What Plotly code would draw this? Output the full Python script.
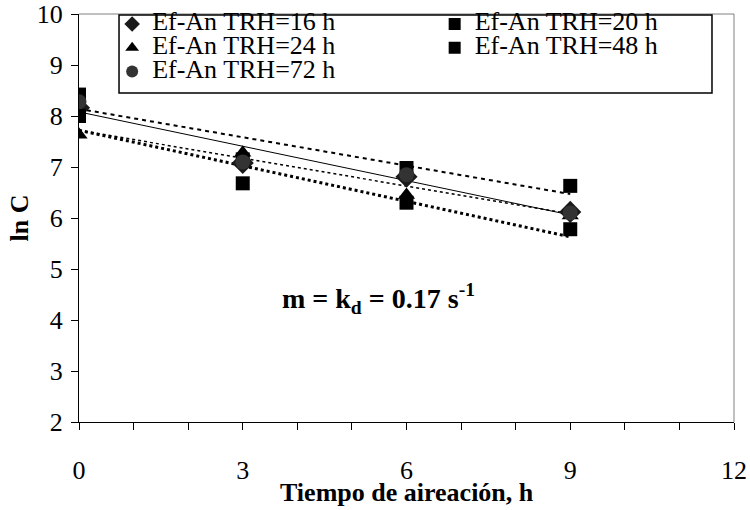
import plotly.graph_objects as go

# Data
times = [0, 3, 6, 9]
lnc_16h = [8.16, 7.08, 6.81, 6.12]
lnc_20h = [8.42, 7.15, 6.98, 6.63]
lnc_24h = [7.63, 7.28, 6.45, 6.05]
lnc_48h = [8.00, 6.68, 6.30, 5.78]
lnc_72h = [8.28, 7.10, 6.85, 6.10]

# Trend lines (value at start and end of the fitted range)
trend_x = [0, 9]
trend_solid = [8.08, 6.06]
trend_dash = [8.14, 6.47]
trend_dot_a = [7.72, 6.08]
trend_dot_b = [7.72, 5.63]

FONT = "Liberation Serif"

fig = go.Figure()

fig.add_trace(go.Scatter(x=trend_x, y=trend_dash, mode="lines", showlegend=False,
                         line=dict(color="black", width=2, dash="4px,4px")))
fig.add_trace(go.Scatter(x=trend_x, y=trend_dot_a, mode="lines", showlegend=False,
                         line=dict(color="black", width=1.5, dash="3px,3px")))
fig.add_trace(go.Scatter(x=trend_x, y=trend_dot_b, mode="lines", showlegend=False,
                         line=dict(color="black", width=3, dash="3px,3px")))
fig.add_trace(go.Scatter(x=trend_x, y=trend_solid, mode="lines", showlegend=False,
                         line=dict(color="black", width=1)))

series = [
    ("Ef-An TRH=16 h", lnc_16h, "diamond", "#1a1a1a", 17, "legend"),
    ("Ef-An TRH=20 h", lnc_20h, "square", "black", 14, "legend2"),
    ("Ef-An TRH=24 h", lnc_24h, "triangle-up", "black", 15, "legend"),
    ("Ef-An TRH=48 h", lnc_48h, "square", "black", 14, "legend2"),
    ("Ef-An TRH=72 h", lnc_72h, "circle", "#333333", 15, "legend"),
]
for name, vals, sym, col, size, leg in series:
    fig.add_trace(go.Scatter(x=times, y=vals, mode="markers",
                             name='<span style="font-size:26px">' + name + '</span>',
                             legend=leg,
                             marker=dict(symbol=sym, color=col, size=size, line=dict(width=0))))

fig.add_annotation(x=3.68, y=4.43, xref="x", yref="y", xanchor="left", yanchor="middle",
                   text="<b>m = k<sub>d</sub> = 0.17 s<sup>-1</sup></b>", showarrow=False,
                   font=dict(family=FONT, size=28, color="black"))

fig.add_annotation(x=0.5, y=-0.172, xref="paper", yref="paper", xanchor="center", yanchor="middle",
                   text="<b>Tiempo de aireación, h</b>", showarrow=False,
                   font=dict(family=FONT, size=26, color="black"))

leg_common = dict(orientation="v", yanchor="top", xanchor="left",
                  bgcolor="rgba(0,0,0,0)", borderwidth=0, itemwidth=30,
                  itemsizing="constant", tracegroupgap=0,
                  font=dict(family=FONT, size=16, color="black"))

fig.update_layout(
    width=750, height=510,
    margin=dict(l=79, r=16, t=14, b=88, autoexpand=False),
    paper_bgcolor="white", plot_bgcolor="white",
    font=dict(family=FONT, size=26, color="black"),
    showlegend=True,
    legend=dict(x=0.0506, y=1.017, **leg_common),
    legend2=dict(x=0.543, y=1.017, **leg_common),
    xaxis=dict(range=[0, 12], tickmode="linear", tick0=0, dtick=3,
               ticks="outside", ticklen=7, tickcolor="black", tickwidth=1,
               minor=dict(dtick=1, ticks="outside", ticklen=7, tickcolor="black"),
               showline=True, linecolor="black", linewidth=1, mirror=False,
               showgrid=False, zeroline=False, ticklabelstandoff=18,
               automargin=False,
               tickfont=dict(family=FONT, size=26)),
    yaxis=dict(range=[2, 10], tickmode="linear", tick0=2, dtick=1,
               ticks="outside", ticklen=7, tickcolor="black", tickwidth=1,
               showline=True, linecolor="black", linewidth=1,
               showgrid=False, zeroline=False, ticklabelstandoff=3,
               automargin=False,
               tickfont=dict(family=FONT, size=26),
               title=dict(text="<b>ln C</b>", standoff=0,
                          font=dict(family=FONT, size=26))),
    shapes=[
        # gray top and right frame
        dict(type="line", xref="paper", yref="paper", x0=0, x1=1, y0=1, y1=1,
             line=dict(color="#808080", width=1)),
        dict(type="line", xref="paper", yref="paper", x0=1, x1=1, y0=0, y1=1,
             line=dict(color="#808080", width=1)),
        # legend box
        dict(type="rect", xref="paper", yref="paper",
             x0=0.0611, x1=0.9664, y0=0.8064, y1=0.9975,
             line=dict(color="black", width=1.5), fillcolor="white", layer="above"),
    ],
)

fig.write_html("out.html", post_script="document.body.style.margin='0';",
               config={"displayModeBar": False})
